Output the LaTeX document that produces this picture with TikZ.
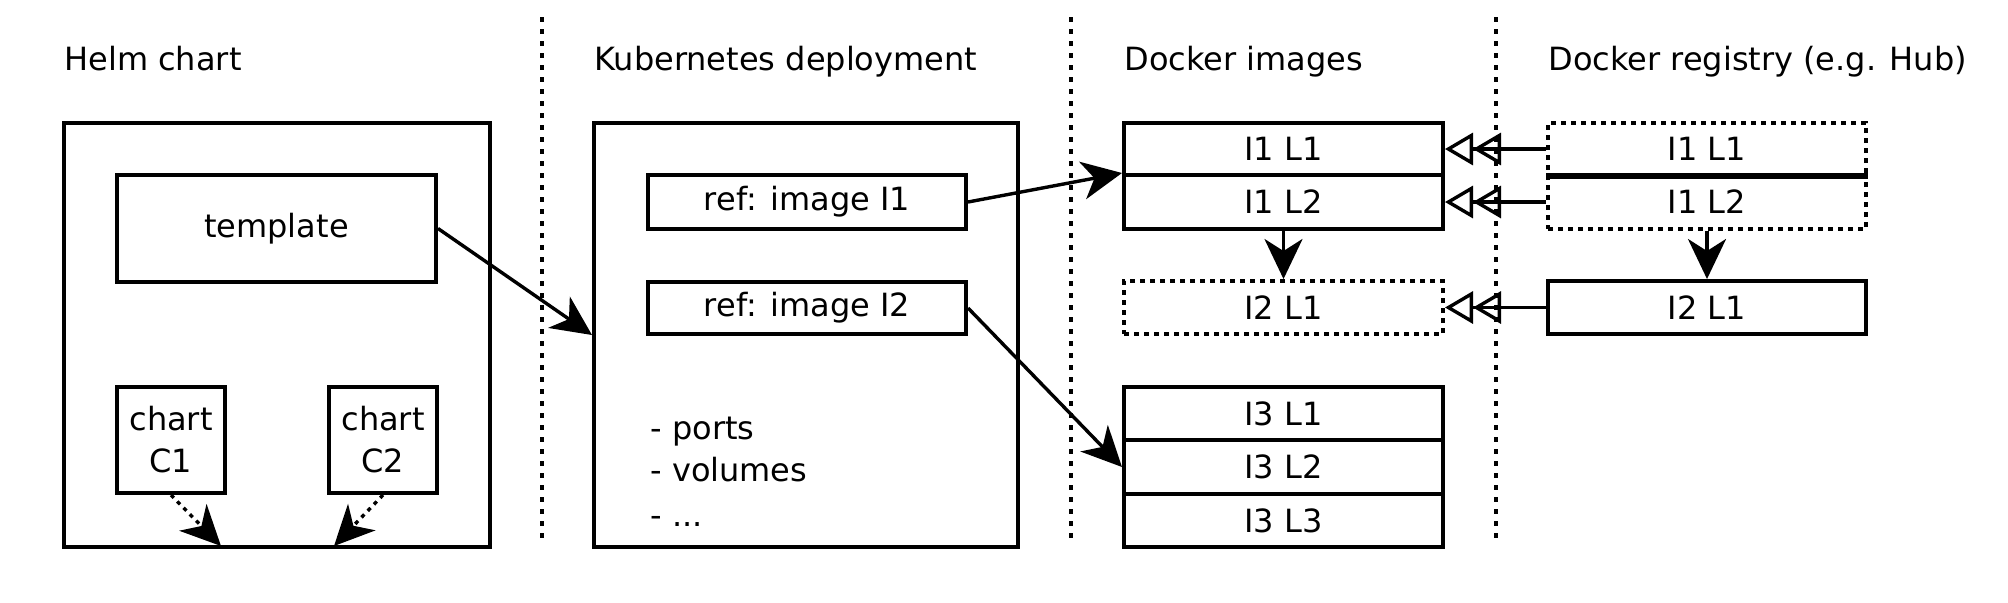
\documentclass[tikz,border=0pt]{standalone}
\usepackage{fontspec}
\setmainfont{DejaVu Sans}
\usetikzlibrary{arrows.meta}
\begin{document}
\begin{tikzpicture}[x=0.5pt,y=-0.5pt,
  every node/.style={font=\fontsize{16}{21}\selectfont, inner sep=0pt, text=black},
  box/.style={draw, line width=2pt, align=center},
  dotbox/.style={box, dash pattern=on 2.5pt off 2.5pt},
  title/.style={anchor=base west},
  listitem/.style={anchor=base west},
  conn/.style={line width=1.7pt, -{Stealth[length=20pt,width=19pt,inset=6pt]}},
  dotconn/.style={conn, dash pattern=on 2pt off 2.5pt},
  pull/.style={line width=1.7pt, -{Triangle[open,length=14pt,width=16pt,line width=1.7pt]Triangle[open,length=14pt,width=16pt,line width=1.7pt]}},
  divider/.style={line width=1.6pt, dash pattern=on 2.5pt off 3.5pt}
]
\useasboundingbox (0,0) rectangle (2008,602);

% titles
\node[title] (t1) at (64,70) {Helm chart};
\node[title] (t2) at (594,70) {Kubernetes deployment};
\node[title] (t3) at (1124,70) {Docker images};
\node[title] (t4) at (1548,70) {Docker registry (e.g. Hub)};

% dividers
\draw[divider] (542,17) -- (542,541);
\draw[divider] (1071,17) -- (1071,541);
\draw[divider] (1496,17) -- (1496,541);

% Helm chart
\node[box, minimum width=213pt, minimum height=212pt] (helm) at (277,335) {};
\node[box, minimum width=159.5pt, minimum height=53.5pt] (tmpl) at (276.5,228.5) {template};
\node[box, minimum width=54pt, minimum height=53pt] (c1) at (171,440) {chart\\C1};
\node[box, minimum width=54pt, minimum height=53pt] (c2) at (383,440) {chart\\C2};
\coordinate (c1end) at (221,546);
\coordinate (c2end) at (334,546);
\draw[dotconn] (c1.south) -- (c1end);
\draw[dotconn] (c2.south) -- (c2end);

% Kubernetes deployment
\node[box, minimum width=212pt, minimum height=212pt] (k8s) at (806,335) {};
\node[box, minimum width=159pt, minimum height=27pt] (ref1) at (807,202) {ref: image I1};
\node[box, minimum width=159pt, minimum height=26pt] (ref2) at (807,308) {ref: image I2};
\node[listitem] (l1) at (650,439) {- ports};
\node[listitem] (l2) at (650,481) {- volumes};
\node[listitem] (l3) at (650,526) {- ...};

% Docker images
\node[box, minimum width=159.5pt, minimum height=26pt] (d11) at (1283.5,149) {I1 L1};
\node[box, minimum width=159.5pt, minimum height=27pt] (d12) at (1283.5,202) {I1 L2};
\node[dotbox, minimum width=159.5pt, minimum height=26.5pt] (d21) at (1283.5,307.5) {I2 L1};
\node[box, minimum width=159.5pt, minimum height=26.5pt] (d31) at (1283.5,413.5) {I3 L1};
\node[box, minimum width=159.5pt, minimum height=27pt] (d32) at (1283.5,467) {I3 L2};
\node[box, minimum width=159.5pt, minimum height=26.5pt] (d33) at (1283.5,520.5) {I3 L3};

% Docker registry
\node[dotbox, minimum width=159pt, minimum height=26pt] (r11) at (1707,149) {I1 L1};
\node[dotbox, minimum width=159pt, minimum height=27pt] (r12) at (1707,202) {I1 L2};
\node[box, minimum width=159pt, minimum height=26.5pt] (r21) at (1707,307.5) {I2 L1};
\draw[line width=2pt] (r11.south west) -- (r11.south east);

% connectors
\draw[conn] (tmpl.east) -- (k8s.west);
\draw[conn] (ref1.east) -- (d12.north west);
\draw[conn] (ref2.east) -- (d32.west);
\draw[conn] (d12.south) -- (d21.north);
\draw[conn] (r12.south) -- (r21.north);
\draw[pull] (r11.west) -- (d11.east);
\draw[pull] (r12.west) -- (d12.east);
\draw[pull] (r21.west) -- (d21.east);
\end{tikzpicture}
\end{document}
